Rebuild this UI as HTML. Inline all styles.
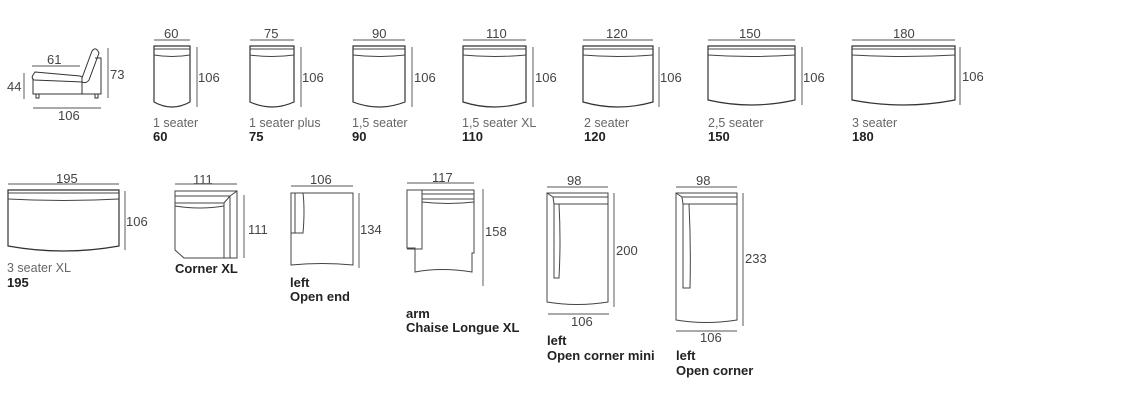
<!DOCTYPE html>
<html><head><meta charset="utf-8"><style>
html,body{margin:0;padding:0;background:#fff;width:1124px;height:403px;overflow:hidden}
svg{display:block}
text{font-family:"Liberation Sans",sans-serif}
.d{font-size:13px;fill:#444}
.g{font-size:12.5px;fill:#666}
.b{font-size:13px;font-weight:bold;fill:#222}
.s{fill:#fff;stroke:#333;stroke-width:1.2}
.l{fill:none;stroke:#444;stroke-width:1}
.dl{stroke:#777;stroke-width:1.2}
</style></head><body>
<svg width="1124" height="403" viewBox="0 0 1124 403" xmlns="http://www.w3.org/2000/svg">
<g id="shapes"></g>
<!-- side view -->
<g class="l" stroke-width="1.1">
<path d="M33,77 H82 V94 H33 Z" fill="#fff" stroke="#333"/>
<path d="M35,72 L80,76 Q84,77 83,82 L34,80 Q31,78 33,75 Z" fill="#fff" stroke="#333"/>
<path d="M82,78 L92,51 Q96,46 99,53 L89,80 Q86,84 82,82 Z" fill="#fff" stroke="#333"/>
<path d="M95,58 H101 V94 H82" stroke="#333"/>
<path d="M36,94 v4 h3 v-4 M95,94 v4 h3 v-4" stroke="#333"/>
</g>
<line class="dl" x1="32" y1="66" x2="80" y2="66"/>
<line class="dl" x1="24" y1="73" x2="24" y2="99"/>
<line class="dl" x1="108" y1="48" x2="108" y2="98"/>
<line class="dl" x1="33" y1="108" x2="101" y2="108"/>
<text class="d" x="47" y="64">61</text>
<text class="d" x="7" y="91">44</text>
<text class="d" x="110" y="79">73</text>
<text class="d" x="58" y="120">106</text>

<!-- row 1 dims -->
<text class="d" x="164" y="38">60</text>
<text class="d" x="264" y="38">75</text>
<text class="d" x="372" y="38">90</text>
<text class="d" x="486" y="38">110</text>
<text class="d" x="606" y="38" fill="#777">120</text>
<text class="d" x="739" y="38">150</text>
<text class="d" x="893" y="38">180</text>
<text class="d" x="198" y="82">106</text>
<text class="d" x="302" y="82">106</text>
<text class="d" x="414" y="82">106</text>
<text class="d" x="535" y="82">106</text>
<text class="d" x="660" y="82" fill="#777">106</text>
<text class="d" x="803" y="82">106</text>
<text class="d" x="962" y="81" fill="#777">106</text>
<text class="g" x="153" y="127">1 seater</text><text class="b" x="153" y="141">60</text>
<text class="g" x="249" y="127">1 seater plus</text><text class="b" x="249" y="141">75</text>
<text class="g" x="352" y="127">1,5 seater</text><text class="b" x="352" y="141">90</text>
<text class="g" x="462" y="127">1,5 seater XL</text><text class="b" x="462" y="141">110</text>
<text class="g" x="584" y="127">2 seater</text><text class="b" x="584" y="141">120</text>
<text class="g" x="708" y="127">2,5 seater</text><text class="b" x="708" y="141">150</text>
<text class="g" x="852" y="127">3 seater</text><text class="b" x="852" y="141">180</text>

<!-- row 2 -->
<text class="d" x="56" y="183" fill="#666">195</text>
<text class="d" x="126" y="226" fill="#666">106</text>
<text class="g" x="7" y="272">3 seater XL</text><text class="b" x="7" y="287">195</text>
<text class="d" x="193" y="184">111</text>
<text class="d" x="248" y="234">111</text>
<text class="b" x="175" y="273">Corner XL</text>
<text class="d" x="310" y="184">106</text>
<text class="d" x="360" y="234">134</text>
<text class="b" x="290" y="287">left</text><text class="b" x="290" y="301">Open end</text>
<text class="d" x="432" y="182" fill="#666">117</text>
<text class="d" x="485" y="236" fill="#777">158</text>
<text class="b" x="406" y="318">arm</text><text class="b" x="406" y="332">Chaise Longue XL</text>
<text class="d" x="567" y="185">98</text>
<text class="d" x="616" y="255" fill="#666">200</text>
<text class="d" x="571" y="326" fill="#666">106</text>
<text class="b" x="547" y="345">left</text><text class="b" x="547" y="360">Open corner mini</text>
<text class="d" x="696" y="185">98</text>
<text class="d" x="745" y="263" fill="#666">233</text>
<text class="d" x="700" y="342" fill="#666">106</text>
<text class="b" x="676" y="360">left</text><text class="b" x="676" y="375">Open corner</text>

<g class="l" stroke="#333" stroke-width="1.1">
<!-- corner XL -->
<path d="M175,191 H237 V258 H184 L175,250 Z" fill="#fff"/>
<path d="M175,196 H230 L237,191 M230,196 V258 M224,203 V258 M175,203 H224 L230,196"/>
<path d="M175,206 Q200,210 224,206"/>
<!-- open end -->
<path d="M291,193 H353 V265 Q322,262 291,265 Z" fill="#fff"/>
<path d="M291,193 H303 Q305,210 303,233 H291 M295,193 V233"/>
<!-- chaise -->
<path d="M407,190 H474 V253 H472 V272 Q441,267 415,272 V248 H407 Z" fill="#fff"/>
<path d="M407,190 H422 V249 H407 M422,194 H474 M422,199 H474 M422,202 Q448,205 474,202"/>
<!-- open corner mini -->
<path d="M547,193 H608 V302 Q577,307 547,302 Z" fill="#fff"/>
<path d="M547,193 L553,197 H608 M553,197 L554,204 H608 M554,204 V278 H559 Q561,240 559,204"/>
<!-- open corner -->
<path d="M676,193 H737 V320 Q706,325 676,320 Z" fill="#fff"/>
<path d="M676,193 L682,197 H737 M682,197 L683,204 H737 M683,204 V288 H690 Q691,245 689,204"/>
</g>
<g class="dl">
<line x1="8" y1="184" x2="119" y2="184"/><line x1="125" y1="191" x2="125" y2="250"/>
<line x1="175" y1="184" x2="237" y2="184"/><line x1="244" y1="195" x2="244" y2="258"/>
<line x1="291" y1="186" x2="353" y2="186"/><line x1="359" y1="193" x2="359" y2="268"/>
<line x1="407" y1="183" x2="474" y2="183"/><line x1="483" y1="189" x2="483" y2="286"/>
<line x1="547" y1="187" x2="608" y2="187"/><line x1="614" y1="193" x2="614" y2="307"/><line x1="548" y1="314" x2="609" y2="314"/>
<line x1="676" y1="187" x2="737" y2="187"/><line x1="743" y1="193" x2="743" y2="326"/><line x1="676" y1="331" x2="737" y2="331"/>
</g>
</svg>
<script>
(function(){
var g=document.getElementById('shapes'),h='';
function seat(x,w,y0,y1,dy,vx){
 h+='<path class="s" d="M'+x+','+y0+' H'+(x+w)+' V'+y1+' Q'+(x+w/2)+','+(y1+10)+' '+x+','+y1+' Z"/>';
 h+='<path class="l" d="M'+x+','+(y0+3)+' H'+(x+w)+' M'+x+','+(y0+9)+' Q'+(x+w/2)+','+(y0+12)+' '+(x+w)+','+(y0+9)+'"/>';
 if(dy!==undefined){
 h+='<line class="dl" x1="'+x+'" y1="'+dy+'" x2="'+(x+w)+'" y2="'+dy+'"/>';
 h+='<line class="dl" x1="'+vx+'" y1="'+(y0+1)+'" x2="'+vx+'" y2="'+(y1+5)+'"/>';}
}
seat(154,36,46,102,40,197);
seat(250,44,46,102,40,301);
seat(353,52,46,102,40,412);
seat(463,63,46,102,40,533);
seat(583,70,46,102,40,659);
seat(708,87,46,100,40,802);
seat(852,103,46,100,40,960);
seat(8,111,190,246);
g.innerHTML=h;
})();
</script>
</body></html>
